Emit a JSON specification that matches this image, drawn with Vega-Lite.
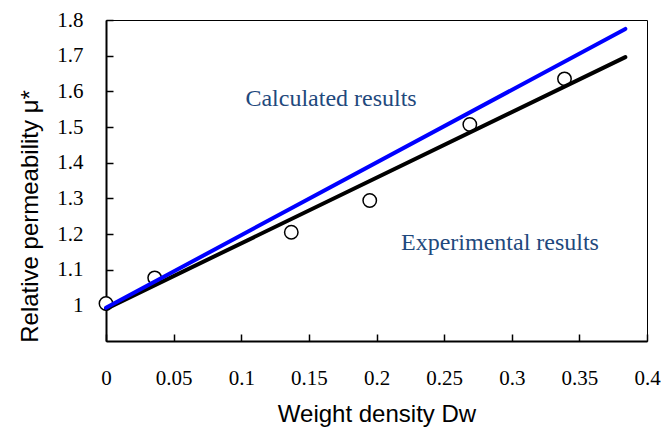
{
  "$schema": "https://vega.github.io/schema/vega-lite/v6.json",
  "width": 541,
  "height": 321,
  "autosize": {"type": "none"},
  "padding": {"left": 106, "top": 20, "right": 14, "bottom": 91},
  "background": "white",
  "config": {
    "view": {"stroke": "black", "strokeWidth": 1},
    "axis": {
      "grid": false,
      "domainColor": "black",
      "domainWidth": 2,
      "tickColor": "black",
      "tickWidth": 1.5,
      "tickSize": -7,
      "labelFont": "Liberation Serif",
      "labelFontSize": 21,
      "labelColor": "black",
      "labelFlush": false,
      "titleFont": "Liberation Sans",
      "titleFontSize": 24,
      "titleFontWeight": "normal",
      "titleColor": "black"
    }
  },
  "datasets": {
    "calc": [
      {"Dw": 0, "mu": 0.993},
      {"Dw": 0.384, "mu": 1.775}
    ],
    "fit": [
      {"Dw": 0, "mu": 0.99},
      {"Dw": 0.384, "mu": 1.696}
    ],
    "exp": [
      {"Dw": 0, "mu": 1.005},
      {"Dw": 0.036, "mu": 1.077},
      {"Dw": 0.137, "mu": 1.205},
      {"Dw": 0.195, "mu": 1.294},
      {"Dw": 0.269, "mu": 1.507},
      {"Dw": 0.339, "mu": 1.635}
    ],
    "notes": [
      {"Dw": 0.1664, "mu": 1.56, "label": "Calculated results"},
      {"Dw": 0.2913, "mu": 1.154, "label": "Experimental results"}
    ]
  },
  "layer": [
    {
      "data": {"name": "exp"},
      "mark": {"type": "point", "shape": "circle", "filled": true, "fill": "white", "stroke": "black", "strokeWidth": 1.5, "size": 180, "opacity": 1},
      "encoding": {
        "x": {
          "field": "Dw", "type": "quantitative",
          "scale": {"domain": [0, 0.4], "nice": false, "zero": false},
          "axis": {
            "title": "Weight density Dw",
            "values": [0, 0.05, 0.1, 0.15, 0.2, 0.25, 0.3, 0.35, 0.4],
            "format": "~g",
            "labelPadding": 33,
            "titlePadding": 14
          }
        },
        "y": {
          "field": "mu", "type": "quantitative",
          "scale": {"domain": [0.9, 1.8], "nice": false, "zero": false},
          "axis": {
            "title": "Relative permeability μ*",
            "values": [1, 1.1, 1.2, 1.3, 1.4, 1.5, 1.6, 1.7, 1.8],
            "format": "~g",
            "labelPadding": 30,
            "titlePadding": 14,
            "titleY": 196
          }
        }
      }
    },
    {
      "data": {"name": "fit"},
      "mark": {"type": "line", "color": "black", "strokeWidth": 4, "strokeCap": "round"},
      "encoding": {
        "x": {"field": "Dw", "type": "quantitative"},
        "y": {"field": "mu", "type": "quantitative"}
      }
    },
    {
      "data": {"name": "calc"},
      "mark": {"type": "line", "color": "#0000ff", "strokeWidth": 4, "strokeCap": "round"},
      "encoding": {
        "x": {"field": "Dw", "type": "quantitative"},
        "y": {"field": "mu", "type": "quantitative"}
      }
    },
    {
      "data": {"name": "notes"},
      "mark": {"type": "text", "font": "Liberation Serif", "fontSize": 24, "color": "#1F497D", "align": "center", "baseline": "alphabetic"},
      "encoding": {
        "x": {"field": "Dw", "type": "quantitative"},
        "y": {"field": "mu", "type": "quantitative"},
        "text": {"field": "label"}
      }
    }
  ]
}
